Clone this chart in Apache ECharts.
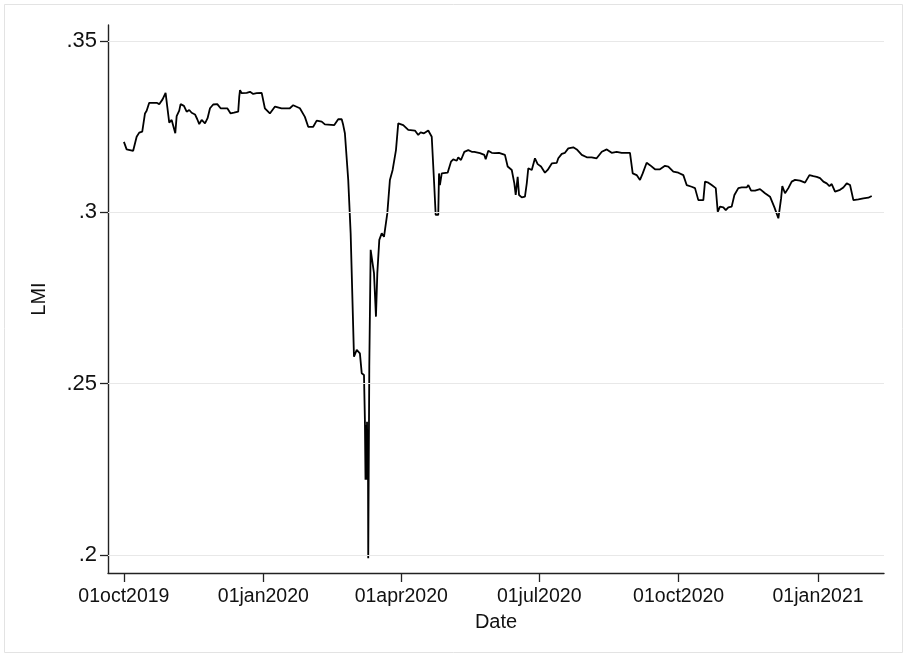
<!DOCTYPE html>
<html>
<head>
<meta charset="utf-8">
<script src="https://cdn.jsdelivr.net/npm/echarts@6/dist/echarts.min.js"></script>
<style>
html,body{margin:0;padding:0;background:#fff;}
#chart{width:907px;height:657px;}
</style>
</head>
<body>
<div id="chart"></div>
<script>
// Days since 01oct2019
const DAYS = [
0,1.8,6.1,8.4,10.1,12.1,13.9,15.0,16.7,21.6,23.3,25.5,27.5,28.6,29.9,31.5,32.5,33.9,34.8,36.5,
37.4,39.6,41.4,43.1,44.7,46.9,48.4,49.7,51.3,53.5,55.2,56.8,58.9,61.6,63.8,68.2,70.4,72.6,75.4,76.1,
76.6,77.7,81.0,83.2,85.3,87.6,88.6,90.9,91.9,93.0,96.3,99.7,104.0,109.5,111.7,116.1,119.4,121.6,124.9,127.2,
130.5,132.6,138.8,141.4,143.7,144.7,145.8,148.0,149.6,150.9,151.8,153.6,155.7,156.9,158.4,159.0,159.4,159.7,160.1,160.4,
160.7,161.0,161.2,161.9,162.8,164.1,165.0,166.3,167.2,168.5,170.1,171.6,172.9,173.8,175.5,177.3,179.5,181.0,182.1,184.3,
187.6,192.0,194.2,195.8,198.0,200.8,203.1,204.8,205.7,207.4,207.9,208.5,209.7,213.6,215.8,217.3,219.6,220.6,222.4,224.6,
227.2,229.5,231.2,232.1,234.9,237.8,238.7,240.4,242.7,244.8,247.5,251.4,253.2,255.9,257.6,258.5,259.8,260.7,262.5,264.6,
265.8,266.8,269.1,271.2,273.0,275.2,277.8,279.6,282.3,285.6,286.6,288.9,291.0,293.2,296.5,298.8,302.1,305.4,308.6,311.9,
315.3,318.6,321.8,325.1,328.4,333.9,335.7,338.3,340.5,342.3,344.9,347.1,350.4,353.7,357.0,359.2,362.5,365.8,366.9,369.1,
371.3,374.6,376.8,379.0,382.3,383.4,385.6,387.8,390.5,391.8,393.3,395.5,397.1,398.8,401.0,402.8,405.4,407.6,410.9,412.0,
413.8,416.4,419.7,423.0,426.3,429.2,431.8,433.6,434.4,436.2,438.4,440.6,442.8,446.1,449.4,452.3,454.9,457.1,459.3,461.5,
463.7,465.5,467.0,469.2,472.5,474.7,476.9,479.1,481.3,484.6,487.9,491.2,493.4
];
const LMI = [
.3205,.3183,.3179,.3220,.3232,.3235,.3288,.3296,.3319,.3319,.3315,.3329,.3348,.3308,.3261,.3269,.3264,.3230,.3280,.3296,
.3315,.3310,.3293,.3298,.3290,.3285,.3271,.3257,.3269,.3259,.3274,.3303,.3314,.3315,.3303,.3303,.3288,.3290,.3293,.3337,
.3356,.3347,.3348,.3351,.3345,.3347,.3342,.3348,.3348,.3303,.3288,.3308,.3303,.3303,.3312,.3303,.3278,.3249,.3249,.3267,
.3264,.3256,.3254,.3271,.3271,.3254,.3230,.3094,.2938,.2933,.2578,.2598,.2588,.2530,.2525,.2394,.2219,.2379,.2219,.2388,
.2225,.2365,.1990,.2549,.2890,.2890,.2822,.2695,.2822,.2919,.2938,.2928,.2928,.2997,.3094,.3123,.3181,.3259,.3264,.3254,
.3240,.3238,.3225,.3233,.3230,.3238,.3220,.3074,.2992,.2992,.3113,.3079,.3113,.3115,.3147,.3154,.3150,.3160,.3152,.3176,
.3181,.3176,.3176,.3172,.3172,.3167,.3154,.3179,.3173,.3172,.3173,.3167,.3133,.3123,.3084,.3050,.3103,.3050,.3043,.3045,
.3084,.3128,.3123,.3157,.3140,.3133,.3115,.3123,.3142,.3144,.3157,.3170,.3173,.3186,.3189,.3183,.3167,.3160,.3160,.3157,
.3176,.3183,.3173,.3176,.3173,.3173,.3113,.3108,.3094,.3113,.3144,.3137,.3125,.3125,.3135,.3133,.3118,.3115,.3113,.3108,
.3079,.3074,.3070,.3035,.3035,.3089,.3086,.3079,.3070,.3001,.3016,.3014,.3006,.3014,.3016,.3050,.3070,.3072,.3072,.3079,
.3063,.3063,.3067,.3055,.3045,.3014,.2982,.3040,.3076,.3055,.3070,.3089,.3094,.3092,.3086,.3108,.3105,.3103,.3099,.3089,
.3084,.3076,.3082,.3060,.3065,.3072,.3084,.3079,.3035,.3037,.3040,.3042,.3047
];
const X_TICK_DAYS = [0, 92, 183, 274, 366, 458];
const X_TICK_LABELS = ['01oct2019','01jan2020','01apr2020','01jul2020','01oct2020','01jan2021'];
const Y_TICKS = [0.2, 0.25, 0.3, 0.35];
const Y_TICK_LABELS = ['.2', '.25', '.3', '.35'];

const seriesData = DAYS.map((d, i) => [d, LMI[i]]);
const FONT = '"Liberation Sans", Arial, Helvetica, sans-serif';
const lookup = (vals, labels) => (v) => {
  const i = vals.findIndex(t => Math.abs(t - v) < 1e-6);
  return i >= 0 ? labels[i] : '';
};

const chart = echarts.init(document.getElementById('chart'), null, {renderer: 'canvas'});
chart.setOption({
  animation: false,
  backgroundColor: '#ffffff',
  graphic: [{
    type: 'rect', silent: true, z: -10,
    shape: {x: 4.5, y: 4.5, width: 898, height: 648},
    style: {fill: 'none', stroke: '#e3e3e3', lineWidth: 1}
  }],
  grid: {left: 108, right: 23, top: 25, bottom: 84},
  xAxis: {
    type: 'value', min: -10.5, max: 501.5,
    name: 'Date', nameLocation: 'middle', nameGap: 39,
    nameTextStyle: {fontFamily: FONT, fontSize: 20, color: '#111'},
    axisLine: {show: true, onZero: false, lineStyle: {color: '#222', width: 1.4}},
    axisTick: {show: true, customValues: X_TICK_DAYS, length: 9, lineStyle: {color: '#222', width: 1.3}},
    axisLabel: {customValues: X_TICK_DAYS, formatter: lookup(X_TICK_DAYS, X_TICK_LABELS),
      margin: 14, fontFamily: FONT, fontSize: 19.5, color: '#111', hideOverlap: false},
    splitLine: {show: false}
  },
  yAxis: {
    type: 'value', min: 0.1947, max: 0.3546,
    name: 'LMI', nameLocation: 'middle', nameGap: 59,
    nameTextStyle: {fontFamily: FONT, fontSize: 20, color: '#111'},
    axisLine: {show: true, onZero: false, lineStyle: {color: '#222', width: 1.4}},
    axisTick: {show: true, customValues: Y_TICKS, length: 8, lineStyle: {color: '#222', width: 1.3}},
    axisLabel: {customValues: Y_TICKS, formatter: lookup(Y_TICKS, Y_TICK_LABELS),
      margin: 11, fontFamily: FONT, fontSize: 22, color: '#111', hideOverlap: false},
    splitLine: {show: false}
  },
  series: [
    {
      type: 'line', data: [], z: 1, silent: true,
      markLine: {
        silent: true, symbol: ['none', 'none'], animation: false,
        label: {show: false},
        lineStyle: {color: '#e8e8e8', type: 'solid', width: 1.2},
        data: Y_TICKS.map(v => ({yAxis: v}))
      }
    },
    {
      type: 'line', data: seriesData, z: 3,
      showSymbol: false, symbol: 'none',
      lineStyle: {color: '#000', width: 1.8},
      itemStyle: {color: '#000'}
    }
  ]
});
</script>
</body>
</html>
